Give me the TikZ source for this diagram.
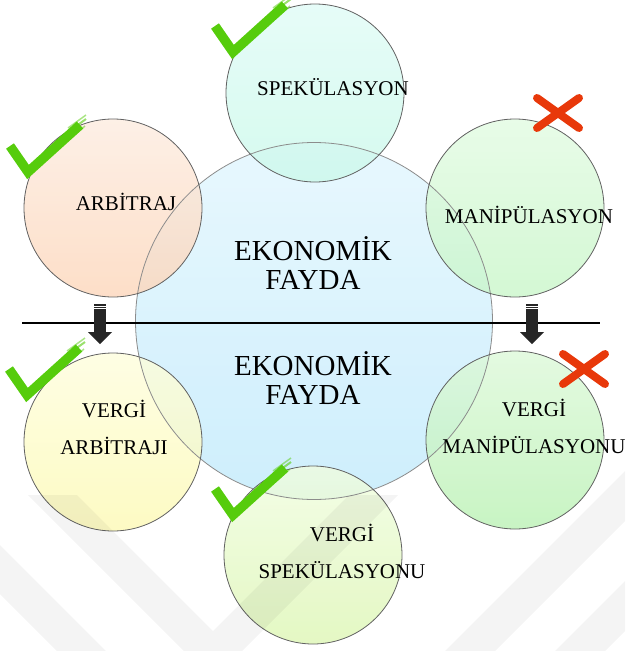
\documentclass[tikz,border=0pt]{standalone}
\usepackage{fontspec}
\setmainfont{Liberation Serif}
% pale fills of the bubbles (top / bottom of each vertical gradient)
\definecolor{bigTop}{RGB}{226,246,254}
\definecolor{bigBot}{RGB}{193,234,251}
\definecolor{spekTop}{RGB}{224,251,246}
\definecolor{spekBot}{RGB}{203,249,234}
\definecolor{arbTop}{RGB}{253,236,224}
\definecolor{arbBot}{RGB}{253,214,186}
\definecolor{manTop}{RGB}{226,251,226}
\definecolor{manBot}{RGB}{201,246,201}
\definecolor{varbTop}{RGB}{254,254,221}
\definecolor{varbBot}{RGB}{253,249,180}
\definecolor{vmanTop}{RGB}{221,249,217}
\definecolor{vmanBot}{RGB}{186,241,180}
\definecolor{vspekTop}{RGB}{240,253,224}
\definecolor{vspekBot}{RGB}{221,246,180}
\definecolor{okGreen}{RGB}{86,204,12}
\definecolor{noRed}{RGB}{232,56,10}
\definecolor{arrowDark}{RGB}{38,38,38}
\begin{document}
\begin{tikzpicture}[x=1pt,y=-1pt,
  bubble/.style={circle, minimum size=178pt, inner sep=0pt, fill opacity=0.8},
  ring/.style={draw=black!62, line width=0.8pt},
  lbl/.style={font=\fontsize{21}{37}\selectfont, align=center, text=black},
  biglbl/.style={font=\fontsize{29}{29}\selectfont, align=center, text=black},
  okmark/.pic={
    \draw[okGreen, line width=9.5pt, line join=miter, line cap=butt]
      (-18,-26) -- (0,0) -- (52,-47);
    \draw[okGreen, line width=2pt, opacity=0.6] (36,-37) -- (58,-53);
    \draw[okGreen, line width=1.5pt, opacity=0.5] (40,-44) -- (58,-57);
    \draw[okGreen, line width=1.5pt, opacity=0.5] (42,-33) -- (57,-46);
  },
  nomark/.pic={
    \draw[noRed, line width=8pt, line cap=round]
      (-21,-15) -- (21,15) (-21,15) -- (21,-15);
  },
  droparrow/.pic={
    \fill[arrowDark] (-6,0) rectangle (6,1.5);
    \fill[arrowDark] (-6,2.5) rectangle (6,4);
    \fill[arrowDark] (-6,5) rectangle (6,29);
    \fill[arrowDark] (-12,28) -- (12,28) -- (0,40) -- cycle;
  }]
\useasboundingbox (0,0) rectangle (625,651);

% bubbles
\node[bubble, minimum size=357pt, top color=bigTop, bottom color=bigBot] (big) at (314,321) {};
\node[bubble, top color=spekTop, bottom color=spekBot] (spek) at (315,93) {};
\node[bubble, top color=arbTop, bottom color=arbBot] (arb) at (113,208) {};
\node[bubble, top color=manTop, bottom color=manBot] (manip) at (515,208) {};
\node[bubble, top color=varbTop, bottom color=varbBot] (varb) at (113,442) {};
\node[bubble, top color=vmanTop, bottom color=vmanBot] (vmanip) at (515,440) {};
\node[bubble, top color=vspekTop, bottom color=vspekBot] (vspek) at (313,555) {};

% outlines on top of all fills
\draw[ring, draw=black!45] (big.center) circle[radius=178.5];
\foreach \n in {spek,arb,manip,varb,vmanip,vspek}
  \draw[ring] (\n.center) circle[radius=89];

% dividing line
\coordinate (divL) at (22,323);
\coordinate (divR) at (600,323);
\draw[line width=2pt] (divL) -- (divR);

% labels
\node[lbl] (tSpek) at (333,87) {SPEKÜLASYON};
\node[lbl] (tArb) at (126,202) {ARBİTRAJ};
\node[lbl] (tManip) at (529,215) {MANİPÜLASYON};
\node[biglbl] (tTop) at (313,263) {EKONOMİK\\FAYDA};
\node[biglbl] (tBot) at (313,378) {EKONOMİK\\FAYDA};
\node[lbl] (tVarb) at (114,427) {VERGİ\\ARBİTRAJI};
\node[lbl] (tVspek) at (342,551) {VERGİ\\SPEKÜLASYONU};
\node[lbl] (tVmanip) at (534,426) {VERGİ\\MANİPÜLASYONU};

% down arrows across the line
\pic at (100,304) {droparrow};
\pic at (532,304) {droparrow};

% ticks and crosses
\pic at (233,52) {okmark};
\pic at (28,172) {okmark};
\pic at (27,395) {okmark};
\pic at (233,515) {okmark};
\pic at (558,113) {nomark};
\pic at (584,369) {nomark};

% faint chevron watermark
\begin{scope}
  \clip (0,0) rectangle (625,651);
  \fill[black, fill opacity=0.045]
    (28,495) -- (77,495) -- (213,631) -- (349,495) -- (398,495) -- (213,680) -- cycle;
  \fill[black, fill opacity=0.045]
    (0,545) -- (0,594) -- (57,651) -- (106,651) -- cycle;
  \fill[black, fill opacity=0.045]
    (445,651) -- (625,471) -- (625,521) -- (495,651) -- cycle;
  \fill[black, fill opacity=0.045]
    (555,651) -- (625,581) -- (625,631) -- (605,651) -- cycle;
\end{scope}
\end{tikzpicture}
\end{document}
